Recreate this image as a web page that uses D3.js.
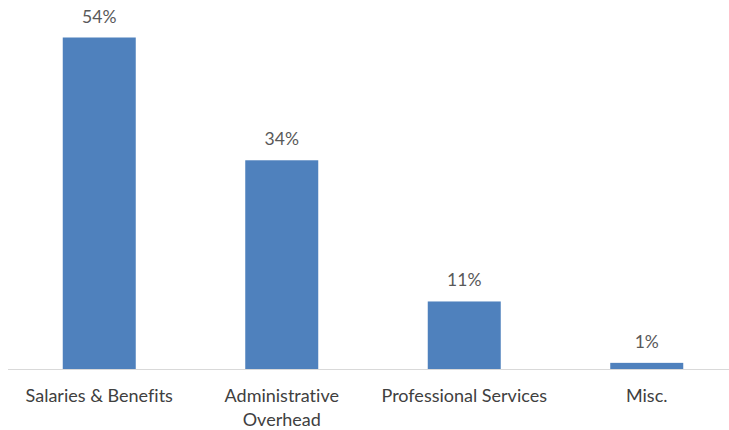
<!DOCTYPE html>
<html>
<head>
<meta charset="utf-8">
<script src="https://cdn.jsdelivr.net/npm/d3@7"></script>
<style>
  html, body { margin: 0; padding: 0; background: #fff; }
  svg { display: block; }
  text { font-variant-ligatures: none; }
</style>
</head>
<body>
<svg id="chart" width="729" height="430"></svg>
<script>
// Expense categories (label lines) and their share of total spending
const categories = ["Salaries & Benefits", "Administrative Overhead", "Professional Services", "Misc."];
const categoryLines = [["Salaries & Benefits"], ["Administrative", "Overhead"], ["Professional Services"], ["Misc."]];
const shares = [54, 34, 11, 1];

const width = 729, height = 430;
const baseline = 369;
const fontFamily = "Lato, 'Open Sans', sans-serif";

const svg = d3.select("#chart");

const x = d3.scaleBand()
  .domain(categories)
  .range([8, 738])
  .paddingInner(0.6)
  .paddingOuter(0.3);

const y = d3.scaleLinear()
  .domain([0, 54])
  .range([baseline, 37.5]);

// Bars
svg.append("g")
  .selectAll("rect")
  .data(shares)
  .join("rect")
  .attr("x", (d, i) => x(categories[i]))
  .attr("y", d => y(d))
  .attr("width", x.bandwidth())
  .attr("height", d => baseline - y(d))
  .attr("fill", "#4F81BD");

// Value labels above bars
svg.append("g")
  .selectAll("text")
  .data(shares)
  .join("text")
  .attr("x", (d, i) => x(categories[i]) + x.bandwidth() / 2)
  .attr("y", d => y(d) - 15)
  .attr("text-anchor", "middle")
  .attr("font-family", fontFamily)
  .attr("font-size", 17.5)
  .attr("fill", "#595959")
  .text(d => d + "%");

// Category axis
const axis = svg.append("g")
  .attr("transform", `translate(0,${baseline})`)
  .call(d3.axisBottom(x).tickSize(0).tickFormat(""));
axis.select(".domain")
  .attr("d", `M8,0.5H${width}`)
  .attr("stroke", "#D9D9D9")
  .attr("stroke-width", 1);

const labels = svg.append("g")
  .selectAll("text")
  .data(categories)
  .join("text")
  .attr("x", d => x(d) + x.bandwidth() / 2)
  .attr("y", baseline + 33)
  .attr("text-anchor", "middle")
  .attr("font-family", fontFamily)
  .attr("font-size", 18)
  .attr("fill", "#404040");

labels.selectAll("tspan")
  .data((d, i) => categoryLines[i])
  .join("tspan")
  .attr("x", function () { return this.parentNode.getAttribute("x"); })
  .attr("dy", (d, i) => i === 0 ? 0 : 24)
  .text(d => d);
</script>
</body>
</html>
